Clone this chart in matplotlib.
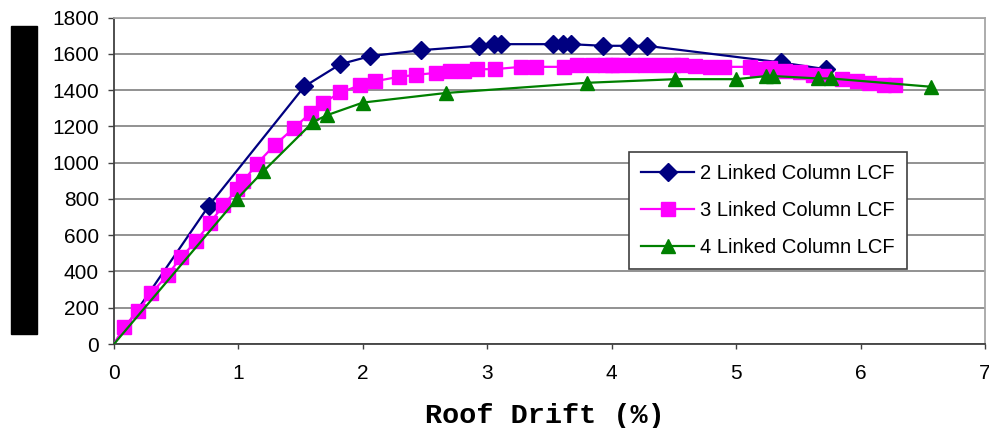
import matplotlib
matplotlib.use('Agg')
import matplotlib.pyplot as plt
from matplotlib.patches import Rectangle

plt.rcParams['font.family'] = ['Liberation Sans', 'DejaVu Sans']

# roof drift (%) vs base shear
blue_x = [0, 0.76, 1.53, 1.82, 2.06, 2.47, 2.93, 3.05, 3.11, 3.53, 3.61, 3.67, 3.93, 4.14, 4.28, 5.36, 5.72]
blue_y = [0, 760, 1420, 1543, 1587, 1620, 1644, 1653, 1653, 1653, 1653, 1653, 1644, 1644, 1644, 1552, 1515]

pink_x = [0, 0.08, 0.19, 0.30, 0.43, 0.54, 0.66, 0.77, 0.88, 0.99, 1.04, 1.15, 1.29, 1.45, 1.58, 1.68,
          1.82, 1.98, 2.10, 2.29, 2.43, 2.59, 2.70, 2.81, 2.92, 3.06, 3.27, 3.39, 3.62, 3.72, 3.84, 3.95,
          4.00, 4.05, 4.16, 4.27, 4.38, 4.49, 4.56, 4.67, 4.79, 4.90, 5.11, 5.17, 5.27, 5.39, 5.51, 5.62,
          5.71, 5.85, 5.97, 6.07, 6.19, 6.28]
pink_y = [0, 93, 181, 280, 380, 479, 566, 667, 765, 853, 897, 995, 1096, 1193, 1274, 1329,
          1387, 1427, 1449, 1473, 1484, 1495, 1506, 1506, 1515, 1515, 1528, 1528, 1528, 1537, 1537, 1537,
          1537, 1537, 1537, 1537, 1537, 1537, 1537, 1535, 1528, 1528, 1528, 1515, 1519, 1504, 1497, 1482,
          1475, 1460, 1451, 1440, 1427, 1427]

green_x = [0, 0.99, 1.20, 1.60, 1.71, 2.00, 2.67, 3.80, 4.51, 5.00, 5.24, 5.30, 5.66, 5.76, 6.57]
green_y = [0, 801, 952, 1224, 1261, 1331, 1384, 1440, 1460, 1460, 1477, 1477, 1464, 1464, 1418]

labels = ['2 Linked Column LCF', '3 Linked Column LCF', '4 Linked Column LCF']

fig = plt.figure(figsize=(9.89, 4.28), dpi=100)
ax = fig.add_axes([114/989, 1-344/428, (985-114)/989, (344-17.5)/428])

# origin point carries no marker
ax.plot(blue_x, blue_y, color='#000080', lw=1.6, marker='D', ms=9.0, markevery=slice(1, None), label=labels[0], zorder=3)
ax.plot(pink_x, pink_y, color='#ff00ff', lw=1.6, marker='s', ms=9.4, markevery=slice(1, None), label=labels[1], zorder=3)
ax.plot(green_x, green_y, color='#008000', lw=1.6, marker='^', ms=10, markevery=slice(1, None), label=labels[2], zorder=3)

ax.set_xlim(0, 7)
ax.set_ylim(0, 1800)
ax.set_xticks(range(0, 8))
ax.set_yticks(range(0, 1801, 200))
ax.grid(axis='y', color='#7f7f7f', lw=1.2)
ax.set_axisbelow(True)

for s in ['left', 'bottom']:
    ax.spines[s].set_color('#404040')
    ax.spines[s].set_linewidth(1.3)
for s in ['top', 'right']:
    ax.spines[s].set_color('#a6a6a6')
    ax.spines[s].set_linewidth(1.3)

ax.tick_params(axis='y', direction='out', length=4.3, width=1, color='#404040', pad=6.5, labelsize=15)
ax.tick_params(axis='x', direction='out', length=3.5, width=1, color='#404040', pad=11, labelsize=15)

ax.set_xlabel('Roof Drift (%)', family='Liberation Mono', fontweight='bold', fontsize=20.5)
ax.xaxis.set_label_coords(0.495, -0.22)
ax.xaxis.label.set_va('center')

leg = ax.legend(loc='upper left', bbox_to_anchor=(629/989, 1-152/428), bbox_transform=fig.transFigure,
                borderaxespad=0, fancybox=False, framealpha=1, edgecolor='#404040', fontsize=14.5,
                handlelength=2.6, handletextpad=0.3, labelspacing=0.88, borderpad=0.62)
leg.get_frame().set_linewidth(1.2)

# redacted y-axis title
fig.add_artist(Rectangle((11/989, 1-334/428), 26/989, 308/428, transform=fig.transFigure, color='black'))

plt.savefig('out.png', dpi=100)
